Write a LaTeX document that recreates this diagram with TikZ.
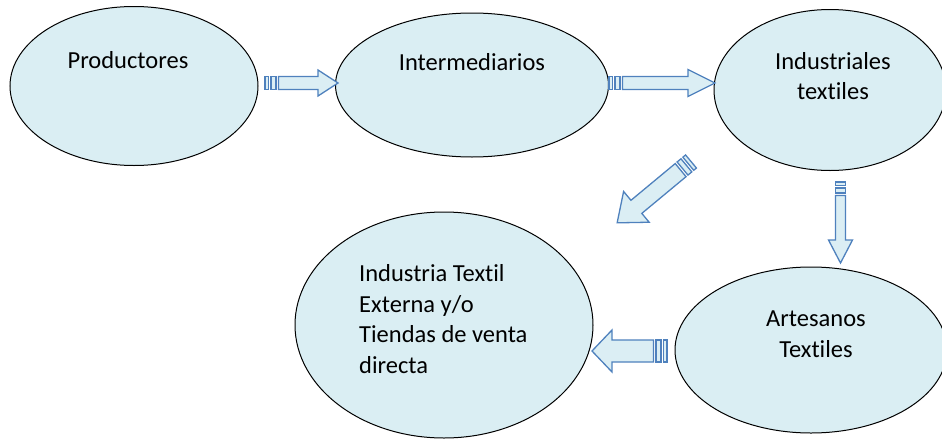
\documentclass[tikz,border=0pt]{standalone}
\usepackage{fontspec}
\setmainfont{Carlito}[Ligatures={NoCommon}]
\usetikzlibrary{shapes.geometric}

\definecolor{ovalfill}{HTML}{DAEEF3}
\definecolor{arrowline}{HTML}{4F81BD}
\definecolor{arrowfill}{HTML}{DBEEF4}

% striped block arrow: #1 tail, #2 angle, #3 length, #4 body half width, #5 head half width, #6 head length
\newcommand{\stripedarrow}[6]{
  \begin{scope}[shift={#1},rotate=#2]
    \draw[arrowpart] (0,-#4) rectangle (3.5,#4);
    \draw[arrowpart] (6,-#4) rectangle (11,#4);
    \draw[arrowpart] (13.5,-#4) -- (#3-#6,-#4) -- (#3-#6,-#5) -- (#3,0)
      -- (#3-#6,#5) -- (#3-#6,#4) -- (13.5,#4) -- cycle;
  \end{scope}
}

\begin{document}
\begin{tikzpicture}[x=1pt,y=-1pt]
    \tikzstyle{oval}=[ellipse,draw=black,line width=1pt,fill=ovalfill,inner sep=0pt]
    \tikzstyle{label}=[inner sep=0pt,font=\fontsize{24.5}{30.5}\selectfont]
    \tikzstyle{arrowpart}=[draw=arrowline,fill=arrowfill,line width=1.3pt,line join=miter]
    \useasboundingbox (0,0) rectangle (942,439);

    \node (prod)[oval,minimum width=248pt,minimum height=159pt] at (134,86) {};
    \node (inter)[oval,minimum width=273pt,minimum height=144pt] at (472,85) {};
    \node (indus)[oval,minimum width=232pt,minimum height=161pt] at (830,90) {};
    \node (ext)[oval,minimum width=298pt,minimum height=226pt] at (444,325) {};
    \node (arte)[oval,minimum width=272pt,minimum height=166pt] at (811,350) {};

    \node (prodtxt)[label] at (128,60) {Productores};
    \node (intertxt)[label] at (472,62) {Intermediarios};
    \node (industxt)[label,align=center] at (833,76) {Industriales\\textiles};
    \node (exttxt)[label,align=left,anchor=west] at (359,319) {Industria Textil\\Externa y/o\\Tiendas de venta\\directa};
    \node (artetxt)[label,align=center] at (816,334) {Artesanos\\Textiles};

    \stripedarrow{(265,83)}{0}{73}{6.5}{13}{20}
    \stripedarrow{(609,83)}{0}{106}{6.5}{13.5}{27}
    \stripedarrow{(691,161.5)}{-140.3}{96}{8.5}{20}{25}
    \stripedarrow{(840.5,182)}{-90}{81}{5}{12}{23}
    \stripedarrow{(667,351)}{180}{75}{11}{21}{20}
\end{tikzpicture}
\end{document}
